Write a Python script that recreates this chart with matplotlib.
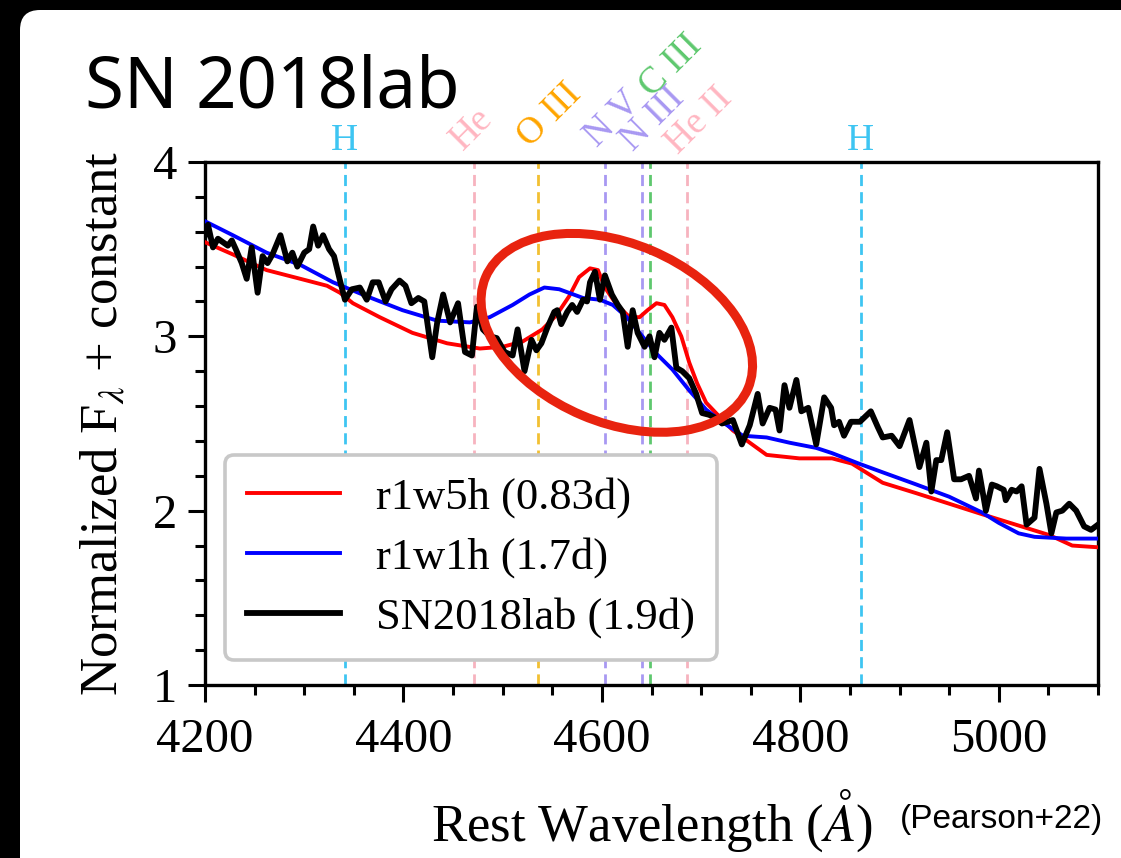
import matplotlib
matplotlib.use("Agg")
import matplotlib.pyplot as plt
from matplotlib.patches import Ellipse, FancyBboxPatch
from matplotlib.transforms import IdentityTransform
from matplotlib.ticker import MultipleLocator

plt.rcParams['font.family'] = 'serif'
plt.rcParams['font.serif'] = ['Liberation Serif', 'DejaVu Serif']
plt.rcParams['mathtext.fontset'] = 'stix'

# observed spectrum, SN2018lab at 1.9 d
obs_wave = [4200, 4203, 4208, 4213, 4218, 4223, 4227, 4231, 4237, 4242,
            4247, 4253, 4258, 4263, 4268, 4276, 4283, 4288, 4293, 4300,
            4305, 4309, 4314, 4319, 4325, 4330, 4336, 4341, 4348, 4356,
            4363, 4369, 4375, 4382, 4388, 4396, 4402, 4408, 4415, 4421,
            4429, 4434, 4440, 4447, 4455, 4462, 4469, 4474, 4480, 4487,
            4494, 4502, 4510, 4515, 4522, 4529, 4534, 4539, 4545, 4552,
            4555, 4559, 4565, 4570, 4575, 4581, 4585, 4588, 4593, 4598,
            4603, 4610, 4616, 4621, 4626, 4631, 4636, 4643, 4648, 4653,
            4658, 4663, 4670, 4675, 4681, 4688, 4695, 4701, 4708, 4715,
            4721, 4732, 4741, 4749, 4757, 4762, 4769, 4775, 4779, 4784,
            4789, 4796, 4801, 4808, 4816, 4824, 4831, 4834, 4839, 4844,
            4851, 4860, 4871, 4878, 4883, 4892, 4900, 4910, 4920, 4927,
            4932, 4937, 4942, 4948, 4955, 4962, 4970, 4977, 4980, 4987,
            4993, 4998, 5005, 5007, 5013, 5018, 5023, 5028, 5036, 5041,
            5048, 5053, 5058, 5064, 5071, 5078, 5086, 5093, 5100]
obs_flux = [3.58, 3.64, 3.51, 3.56, 3.54, 3.52, 3.55, 3.50, 3.42, 3.33,
            3.51, 3.25, 3.46, 3.42, 3.47, 3.58, 3.43, 3.48, 3.40, 3.48,
            3.50, 3.63, 3.52, 3.58, 3.50, 3.46, 3.32, 3.21, 3.27, 3.28,
            3.21, 3.31, 3.31, 3.20, 3.27, 3.32, 3.29, 3.19, 3.22, 3.20,
            2.88, 3.08, 3.24, 3.08, 3.19, 2.91, 2.89, 3.17, 3.04, 3.00,
            2.99, 2.91, 2.89, 3.04, 2.80, 2.98, 2.92, 2.96, 3.05, 3.14,
            3.15, 3.07, 3.14, 3.18, 3.14, 3.21, 3.20, 3.31, 3.37, 3.21,
            3.35, 3.24, 3.18, 3.14, 2.94, 3.15, 3.02, 2.94, 3.00, 2.88,
            3.02, 2.98, 3.05, 2.82, 2.80, 2.76, 2.67, 2.56, 2.55, 2.53,
            2.50, 2.52, 2.38, 2.49, 2.67, 2.50, 2.59, 2.58, 2.46, 2.72,
            2.59, 2.75, 2.57, 2.59, 2.38, 2.65, 2.59, 2.49, 2.51, 2.43,
            2.51, 2.51, 2.57, 2.48, 2.42, 2.43, 2.37, 2.52, 2.25, 2.39,
            2.11, 2.29, 2.29, 2.45, 2.18, 2.18, 2.20, 2.07, 2.23, 2.00,
            2.15, 2.14, 2.12, 2.06, 2.12, 2.11, 2.14, 1.92, 1.96, 2.24,
            2.04, 1.87, 1.99, 2.00, 2.04, 2.00, 1.91, 1.89, 1.92]

# model r1w5h at 0.83 d
r1w5h_wave = [4200, 4228, 4262, 4296, 4323, 4336, 4349, 4376, 4409, 4444,
              4477, 4500, 4520, 4540, 4554, 4567, 4577, 4588, 4596, 4603,
              4615, 4628, 4638, 4646, 4655, 4663, 4671, 4680, 4688, 4696,
              4705, 4715, 4732, 4749, 4766, 4799, 4832, 4852, 4883, 4917,
              4950, 4983, 5017, 5051, 5074, 5100]
r1w5h_flux = [3.54, 3.47, 3.38, 3.33, 3.29, 3.25, 3.19, 3.11, 3.02, 2.96,
              2.93, 2.94, 2.97, 3.04, 3.12, 3.23, 3.34, 3.39, 3.38, 3.28,
              3.18, 3.11, 3.11, 3.15, 3.19, 3.18, 3.11, 3.00, 2.85, 2.73,
              2.62, 2.56, 2.46, 2.39, 2.32, 2.30, 2.30, 2.27, 2.16, 2.10,
              2.04, 1.98, 1.92, 1.86, 1.80, 1.79]

# model r1w1h at 1.7 d
r1w1h_wave = [4200, 4228, 4262, 4296, 4329, 4363, 4399, 4434, 4467, 4487,
              4510, 4527, 4542, 4557, 4581, 4598, 4611, 4625, 4638, 4655,
              4671, 4688, 4705, 4721, 4742, 4766, 4789, 4816, 4832, 4859,
              4883, 4917, 4950, 4983, 5000, 5020, 5036, 5068, 5100]
r1w1h_flux = [3.66, 3.58, 3.48, 3.41, 3.31, 3.23, 3.15, 3.09, 3.08, 3.11,
              3.18, 3.24, 3.28, 3.27, 3.22, 3.21, 3.18, 3.11, 3.02, 2.90,
              2.81, 2.69, 2.58, 2.51, 2.43, 2.42, 2.39, 2.36, 2.33, 2.27,
              2.22, 2.15, 2.08, 1.99, 1.93, 1.87, 1.85, 1.84, 1.84]

# line identifications
line_names = ['H', 'He', 'O III', 'N V', 'N III', 'C III', 'He II', 'H']
line_waves = [4341, 4471, 4536, 4603, 4640, 4648, 4686, 4861]
line_colors = ['#3ec5f2', '#f7b3bf', '#f2c032', '#a898f2', '#a898f2',
               '#5ec86e', '#f7b3bf', '#3ec5f2']
text_colors = ['#3ec5f2', '#ffb6c1', '#ffa500', '#a898f2', '#a898f2',
               '#5ec86e', '#ffb6c1', '#3ec5f2']
text_rot = [0, 45, 45, 45, 45, 45, 45, 0]
text_dx = [0, -8, -6, -6, -6, 2, -7, 0]
text_dy = [3, 8, 10, 10, 7, 46, 5, 3]

fig = plt.figure(figsize=(11.21, 8.58), dpi=100)
fig.patch.set_facecolor('black')
fig.add_artist(FancyBboxPatch((20, -60), 1300, 908, boxstyle='round,pad=0,rounding_size=20',
                              transform=IdentityTransform(), fc='white', ec='none', zorder=-5))

ax = fig.add_axes([0.1829, 0.2016, 0.7966, 0.6096])
ax.plot(r1w5h_wave, r1w5h_flux, color='#ff0000', lw=2.8, label='r1w5h (0.83d)', zorder=3)
ax.plot(r1w1h_wave, r1w1h_flux, color='#0000ff', lw=2.8, label='r1w1h (1.7d)', zorder=3)
ax.plot(obs_wave, obs_flux, color='black', lw=4.2, label='SN2018lab (1.9d)', zorder=4)

for name, w, c, tc, rot, dx, dy in zip(line_names, line_waves, line_colors, text_colors,
                                        text_rot, text_dx, text_dy):
    ax.axvline(w, color=c, lw=2.0, dashes=(4, 2.2), zorder=1)
    if rot == 0:
        ax.annotate(name, (w, 4), xytext=(dx, dy), textcoords='offset points',
                    ha='center', va='bottom', color=tc, fontsize=27, annotation_clip=False)
    else:
        ax.annotate(name, (w, 4), xytext=(dx, dy), textcoords='offset points',
                    ha='left', va='baseline', rotation=rot, rotation_mode='anchor',
                    color=tc, fontsize=27, annotation_clip=False)

ax.set_xlim(4200, 5100)
ax.set_ylim(1, 4)
ax.xaxis.set_major_locator(MultipleLocator(200))
ax.xaxis.set_minor_locator(MultipleLocator(50))
ax.yaxis.set_major_locator(MultipleLocator(1))
ax.yaxis.set_minor_locator(MultipleLocator(0.2))
ax.tick_params(which='major', direction='out', length=12, width=2.2, labelsize=35, pad=8)
ax.tick_params(which='minor', direction='out', length=7, width=2.2)
ax.tick_params(axis='x', which='major', pad=12)
for sp in ax.spines.values():
    sp.set_linewidth(2.4)

ax.set_xlabel(r'Rest Wavelength ($\AA$)', fontsize=38, labelpad=18)
ax.set_ylabel(r'Normalized F$_\lambda$ + constant', fontsize=38, labelpad=18)

leg = ax.legend(loc='lower left', bbox_to_anchor=(0.022, 0.048), borderaxespad=0,
                fontsize=32, handlelength=2.1, handletextpad=0.8, labelspacing=0.42,
                borderpad=0.5, fancybox=True, framealpha=1, edgecolor='#c8c8c8')
leg.get_frame().set_linewidth(2.6)
leg.set_zorder(10)

# highlight of the C III / N III / He II blend
cx, cy = ax.transData.transform((4615, 3.02))
fig.add_artist(Ellipse((cx, cy), 285, 179, angle=-23, transform=IdentityTransform(),
                       fill=False, ec='#e8230f', lw=6.5, zorder=20))

fig.text(85 / 1121, 1 - 108 / 858, 'SN 2018lab', fontsize=51, family='Noto Sans',
         ha='left', va='baseline', color='black')
fig.text(900 / 1121, 1 - 828 / 858, '(Pearson+22)', fontsize=24, family='Liberation Sans',
         ha='left', va='baseline', color='black')

fig.savefig('out.png', dpi=100, facecolor=fig.get_facecolor())
